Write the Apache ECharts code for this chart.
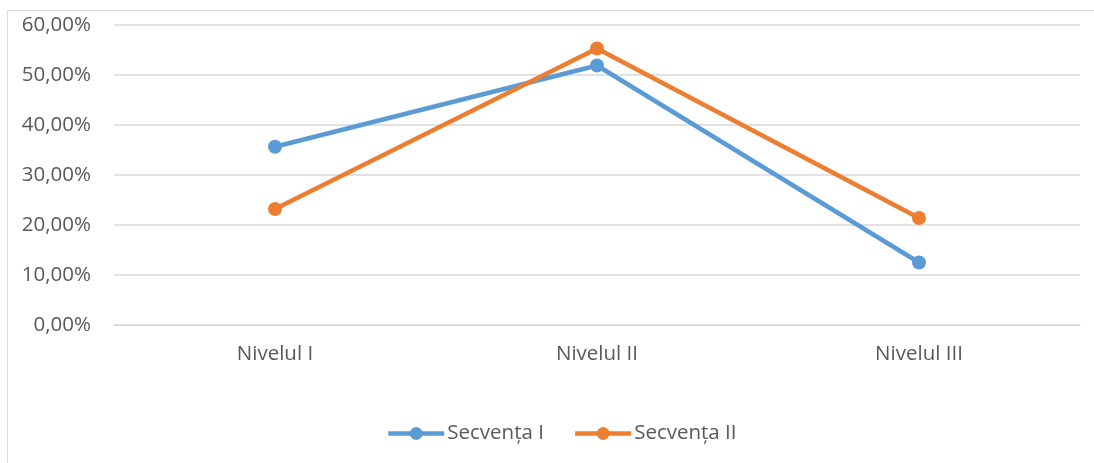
<!DOCTYPE html>
<html>
<head>
<meta charset="utf-8">
<script src="https://cdn.jsdelivr.net/npm/echarts@6/dist/echarts.min.js"></script>
<style>
  html, body { margin: 0; padding: 0; background: #fff; }
  #chart { width: 1094px; height: 463px; }
</style>
</head>
<body>
<div id="chart"></div>
<script>
// Levels on the category axis
const categories = ['Nivelul I', 'Nivelul II', 'Nivelul III'];
// Share of students per level, in percent
const secventaI = [35.66, 51.9, 12.5];
const secventaII = [23.2, 55.3, 21.4];
const seriesNames = ['Secvența I', 'Secvența II'];
const yTicks = { min: 0, max: 60, interval: 10 };

const FONT = '"Open Sans", sans-serif';
const TEXT = '#595959';
const GRID = '#d9d9d9';
const FS = 20.5;

const chart = echarts.init(document.getElementById('chart'), null, { renderer: 'canvas' });

function lineSeries(name, data, color) {
  return {
    name: name,
    type: 'line',
    data: data,
    symbol: 'circle',
    symbolSize: 14,
    lineStyle: { width: 4.5, color: color },
    itemStyle: { color: color },
    emphasis: { disabled: true }
  };
}

chart.setOption({
  animation: false,
  textStyle: { fontFamily: FONT },
  graphic: [{
    type: 'rect',
    shape: { x: 7.5, y: 10.5, width: 1100, height: 470 },
    style: { fill: 'none', stroke: GRID, lineWidth: 1 },
    silent: true,
    z: -1
  }],
  grid: { left: 114, right: 14, top: 25, bottom: 138 },
  xAxis: {
    type: 'category',
    data: categories,
    boundaryGap: true,
    axisLine: { show: true, lineStyle: { color: GRID, width: 1 } },
    axisTick: { show: false },
    axisLabel: { color: TEXT, fontSize: FS, margin: 19, fontFamily: FONT }
  },
  yAxis: {
    type: 'value',
    min: yTicks.min,
    max: yTicks.max,
    interval: yTicks.interval,
    axisLine: { show: false },
    axisTick: { show: false },
    splitLine: { lineStyle: { color: GRID, width: 1.5 } },
    axisLabel: {
      color: TEXT,
      fontSize: FS,
      margin: 23,
      fontFamily: FONT,
      formatter: v => v.toFixed(2).replace('.', ',') + '%'
    }
  },
  legend: {
    data: seriesNames,
    bottom: 19,
    left: 386,
    padding: 0,
    itemWidth: 56,
    itemHeight: 16,
    itemGap: 29,
    lineStyle: { width: 4.5 },
    textStyle: { color: TEXT, fontSize: FS, fontFamily: FONT, padding: [0, 0, 0, -2] }
  },
  series: [
    lineSeries(seriesNames[0], secventaI, '#5B9BD5'),
    lineSeries(seriesNames[1], secventaII, '#ED7D31')
  ]
});
</script>
</body>
</html>
